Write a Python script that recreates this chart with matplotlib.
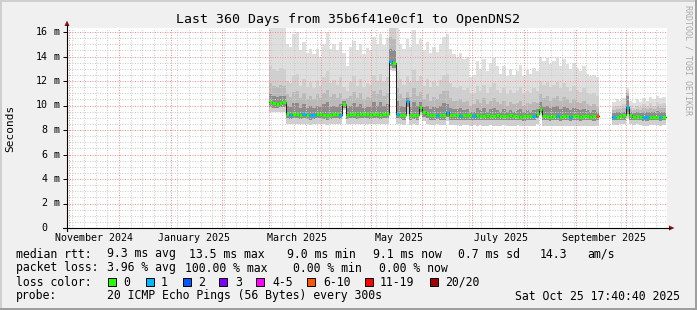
import numpy as np
import pandas as pd
import matplotlib
matplotlib.use('Agg')
import matplotlib.pyplot as plt
import matplotlib.dates as mdates
from matplotlib.ticker import MultipleLocator
from matplotlib.patches import Rectangle, Polygon
from matplotlib.lines import Line2D

W, H = 697, 310
MONO = 'DejaVu Sans Mono'

# ---- data: one column every 2 days, values in ms ----
graph_start = '2024-10-30 17:40:40'
graph_end = '2025-10-25 17:40:40'
seg_a_start = '2025-03-01'
seg_b_start = '2025-09-23'

median_a = [10.25, 10.2, 10.15, 10.2, 10.25, 9.3, 9.25, 9.3, 9.3, 9.25,
            9.3, 9.25, 9.2, 9.25, 9.3, 9.3, 9.25, 9.2, 9.25, 9.3,
            9.3, 9.25, 10.1, 9.25, 9.3, 9.3, 9.25, 9.3, 9.3, 9.3,
            9.25, 9.3, 9.3, 9.25, 9.3, 9.3, 13.6, 13.5, 9.3, 9.25,
            9.2, 10.35, 9.2, 9.25, 9.2, 9.9, 9.5, 9.3, 9.2, 9.2,
            9.25, 9.2, 9.2, 9.5, 9.2, 9.2, 9.2, 9.15, 9.2, 9.2,
            9.2, 9.15, 9.2, 9.15, 9.15, 9.2, 9.15, 9.15, 9.2, 9.15,
            9.15, 9.15, 9.2, 9.15, 9.15, 9.1, 9.15, 9.15, 9.15, 9.15,
            9.3, 9.7, 9.15, 9.15, 9.1, 9.15, 9.15, 9.1, 9.15, 9.15,
            9.1, 9.15, 9.15, 9.1, 9.15, 9.15, 9.1, 9.15, 9.15]
loss_a = [0, 0, 0, 0, 0, 0, 1, 0, 0, 0,
          1, 0, 1, 1, 0, 0, 0, 0, 0, 0,
          0, 1, 0, 0, 0, 0, 0, 0, 0, 0,
          0, 0, 0, 0, 0, 0, 1, 0, 1, 0,
          0, 1, 0, 0, 0, 0, 0, 0, 0, 0,
          1, 0, 0, 1, 0, 0, 0, 1, 0, 0,
          0, 1, 0, 0, 0, 0, 0, 0, 0, 0,
          0, 0, 0, 0, 0, 0, 0, 0, 0, 1,
          0, 0, 0, 0, 0, 0, 1, 0, 0, 0,
          1, 0, 0, 0, 0, 0, 0, 0, 7]
max_a = [16.5, 16.5, 16.5, 16.5, 16.5, 15.0, 14.8, 15.8, 16.0, 14.5,
         15.2, 14.3, 14.6, 14.2, 14.6, 14.0, 15.0, 16.0, 14.6, 15.0,
         14.5, 15.2, 14.3, 13.2, 14.8, 15.3, 14.5, 15.0, 14.2, 14.7,
         14.5, 15.6, 15.0, 15.8, 14.9, 15.5, 16.5, 16.5, 16.5, 15.0,
         14.6, 15.4, 14.8, 16.2, 15.0, 15.4, 14.5, 15.2, 14.3, 14.8,
         14.4, 15.0, 15.6, 15.8, 14.6, 14.2, 14.0, 14.3, 13.8, 14.0,
         12.3, 12.5, 13.6, 13.0, 13.8, 12.8, 13.5, 13.9, 13.2, 12.6,
         13.2, 12.4, 13.0, 12.5, 12.8, 13.3, 12.4, 12.9, 12.6, 13.1,
         12.8, 14.0, 13.6, 13.9, 13.4, 13.6, 13.9, 13.2, 13.8, 13.4,
         13.0, 13.5, 13.1, 12.8, 13.2, 12.6, 12.4, 12.5, 12.3]
hi3_a = [13.2, 13.0, 12.8, 13.1, 13.0, 12.0, 11.8, 12.4, 12.6, 11.6,
         12.2, 11.5, 11.9, 11.4, 12.0, 11.6, 12.3, 12.8, 11.8, 12.1,
         11.7, 12.3, 11.5, 11.2, 11.9, 12.4, 11.6, 12.2, 11.5, 11.8,
         11.7, 12.5, 12.0, 12.6, 11.9, 12.3, 16.5, 16.5, 12.8, 12.2,
         11.7, 12.4, 11.9, 12.9, 12.0, 12.4, 11.6, 12.2, 11.5, 11.9,
         11.6, 12.1, 12.5, 12.6, 11.8, 11.5, 11.4, 11.6, 11.3, 11.4,
         10.9, 11.0, 11.6, 11.2, 11.7, 11.0, 11.5, 11.8, 11.3, 11.0,
         11.4, 10.9, 11.3, 11.0, 11.2, 11.5, 10.9, 11.2, 11.0, 11.4,
         11.2, 12.0, 11.7, 11.9, 11.5, 11.7, 11.9, 11.4, 11.8, 11.5,
         11.2, 11.6, 11.3, 11.1, 11.4, 11.0, 10.9, 11.0, 10.8]
hi2_a = [11.8, 11.6, 11.5, 11.7, 11.6, 10.9, 10.7, 11.1, 11.2, 10.6,
         11.0, 10.5, 10.8, 10.5, 10.9, 10.6, 11.0, 11.3, 10.7, 10.9,
         10.6, 11.0, 10.5, 10.6, 10.8, 11.1, 10.6, 11.0, 10.5, 10.7,
         10.6, 11.2, 10.9, 11.3, 10.8, 11.0, 15.6, 15.4, 11.4, 10.9,
         10.6, 11.1, 10.7, 11.4, 10.8, 11.1, 10.5, 10.9, 10.4, 10.7,
         10.5, 10.9, 11.2, 11.2, 10.6, 10.4, 10.4, 10.5, 10.3, 10.4,
         10.0, 10.1, 10.5, 10.2, 10.6, 10.1, 10.4, 10.6, 10.3, 10.1,
         10.4, 10.0, 10.3, 10.1, 10.2, 10.4, 10.0, 10.2, 10.1, 10.3,
         10.2, 10.9, 10.6, 10.8, 10.4, 10.6, 10.8, 10.4, 10.7, 10.5,
         10.2, 10.5, 10.3, 10.2, 10.4, 10.1, 10.0, 10.1, 9.9]
hi1_a = [10.9, 10.8, 10.7, 10.8, 10.8, 10.0, 9.9, 10.2, 10.2, 9.8,
         10.1, 9.8, 10.0, 9.8, 10.0, 9.9, 10.1, 10.3, 9.9, 10.0,
         9.9, 10.1, 10.4, 9.8, 10.0, 10.2, 9.9, 10.1, 9.8, 9.9,
         9.9, 10.3, 10.0, 10.3, 10.0, 10.1, 14.6, 14.5, 10.4, 10.0,
         9.9, 10.6, 9.9, 10.3, 10.0, 10.3, 9.9, 10.0, 9.7, 9.9,
         9.8, 10.0, 10.2, 10.1, 9.8, 9.7, 9.7, 9.8, 9.6, 9.7,
         9.5, 9.5, 9.8, 9.6, 9.8, 9.5, 9.7, 9.8, 9.6, 9.5,
         9.7, 9.5, 9.6, 9.5, 9.6, 9.7, 9.5, 9.6, 9.5, 9.6,
         9.7, 10.3, 9.9, 10.0, 9.8, 9.9, 10.0, 9.7, 9.9, 9.8,
         9.6, 9.8, 9.7, 9.6, 9.7, 9.6, 9.5, 9.6, 9.5]
lo0_a = [9.85, 9.8, 9.8, 9.85, 9.85, 8.95, 8.9, 8.95, 8.95, 8.9,
         8.95, 8.9, 8.85, 8.9, 8.95, 8.95, 8.9, 8.85, 8.9, 8.95,
         8.95, 8.9, 9.8, 8.9, 8.95, 8.95, 8.9, 8.95, 8.95, 8.95,
         8.9, 8.95, 8.95, 8.9, 8.95, 8.95, 13.2, 13.1, 8.95, 8.9,
         8.85, 9.9, 8.85, 8.9, 8.85, 9.5, 9.1, 8.95, 8.85, 8.85,
         8.9, 8.85, 8.85, 9.1, 8.85, 8.85, 8.85, 8.8, 8.85, 8.85,
         8.8, 8.85, 8.8, 8.85, 8.8, 8.8, 8.85, 8.8, 8.8, 8.8,
         8.85, 8.8, 8.8, 8.8, 8.85, 8.8, 8.75, 8.8, 8.8, 8.8,
         8.95, 9.35, 8.8, 8.8, 8.75, 8.8, 8.8, 8.75, 8.8, 8.8,
         8.75, 8.8, 8.8, 8.75, 8.8, 8.8, 8.8, 8.75, 8.8]
min_a = [9.5, 9.5, 9.45, 9.5, 9.5, 8.5, 8.45, 8.5, 8.5, 8.45,
         8.5, 8.45, 8.4, 8.45, 8.5, 8.5, 8.45, 8.4, 8.45, 8.5,
         8.5, 8.45, 9.6, 8.45, 8.5, 8.5, 8.45, 8.5, 8.5, 8.5,
         8.45, 8.5, 8.5, 8.45, 8.5, 8.5, 12.9, 12.8, 8.5, 8.45,
         8.4, 9.3, 8.4, 8.45, 8.4, 9.2, 8.7, 8.5, 8.4, 8.4,
         8.45, 8.4, 8.4, 8.7, 8.4, 8.4, 8.4, 8.35, 8.4, 8.4,
         8.35, 8.4, 8.35, 8.4, 8.35, 8.35, 8.4, 8.35, 8.35, 8.35,
         8.4, 8.35, 8.35, 8.35, 8.4, 8.35, 8.3, 8.35, 8.35, 8.35,
         8.5, 9.25, 8.35, 8.35, 8.3, 8.35, 8.35, 8.3, 8.35, 8.35,
         8.3, 8.35, 8.35, 8.3, 8.35, 8.35, 8.35, 8.3, 8.35]

median_b = [9.1, 9.1, 9.15, 9.2, 9.9, 9.2, 9.1, 9.15, 9.1, 9.05, 9.05, 9.1, 9.1, 9.1, 9.05, 9.1]
loss_b = [1, 0, 0, 0, 1, 0, 0, 0, 0, 1, 1, 0, 0, 0, 1, 0]
max_b = [10.3, 10.5, 10.4, 10.6, 11.4, 10.4, 10.2, 10.5, 10.3, 10.6, 10.4, 10.7, 10.5, 10.8, 10.6, 10.7]
hi3_b = [9.9, 10.0, 10.0, 10.1, 11.2, 10.0, 9.8, 10.0, 9.9, 10.1, 10.0, 10.2, 10.0, 10.3, 10.1, 10.2]
hi2_b = [9.6, 9.7, 9.7, 9.8, 11.0, 9.7, 9.6, 9.7, 9.6, 9.8, 9.7, 9.8, 9.7, 9.9, 9.8, 9.8]
hi1_b = [9.4, 9.45, 9.45, 9.5, 10.8, 9.45, 9.4, 9.45, 9.4, 9.5, 9.45, 9.5, 9.45, 9.55, 9.5, 9.5]
lo0_b = [8.8, 8.8, 8.85, 8.85, 9.3, 8.85, 8.8, 8.85, 8.8, 8.75, 8.75, 8.8, 8.8, 8.8, 8.75, 8.8]
min_b = [8.4, 8.4, 8.45, 8.45, 9.0, 8.45, 8.4, 8.45, 8.4, 8.35, 8.35, 8.4, 8.4, 8.4, 8.35, 8.4]

loss_labels = ['0', '1', '2', '3', '4-5', '6-10', '11-19', '20/20']
loss_colors = ['#26ff00', '#00b8ff', '#0059ff', '#7e00ff', '#ff00ff', '#ff5500', '#ff0000', '#a10000']

month_labels = ['November 2024', 'January 2025', 'March 2025', 'May 2025', 'July 2025', 'September 2025']
month_label_dates = ['2024-11-16', '2025-01-15', '2025-03-18', '2025-05-18', '2025-07-18', '2025-09-18']

rtt_stats = ['9.3 ms avg', '13.5 ms max', '9.0 ms min', '9.1 ms now', '0.7 ms sd', '14.3', 'am/s']
loss_stats = ['3.96 % avg', '100.00 % max', '0.00 % min', '0.00 % now']
probe_text = '20 ICMP Echo Pings (56 Bytes) every 300s'
stamp_text = 'Sat Oct 25 17:40:40 2025'
title = 'Last 360 Days from 35b6f41e0cf1 to OpenDNS2'


def fx(x):
    return x / W


def fy(y):
    return 1 - y / H


def loss_color(n):
    if n <= 3:
        return loss_colors[n]
    if n <= 5:
        return loss_colors[4]
    if n <= 10:
        return loss_colors[5]
    if n <= 19:
        return loss_colors[6]
    return loss_colors[7]


def draw_segment(ax, start, median, loss, mx, hi3, hi2, hi1, lo0, mn):
    t = pd.date_range(start, periods=len(median) + 1, freq='2D')
    t = mdates.date2num(t.to_pydatetime())

    def ext(v):
        return np.append(v, v[-1])

    # smoke: outer pings lightest, inner pings darker
    bands = [(mn, mx, '#dfdfdf'), (mn, hi3, '#cfcfcf'),
             (lo0, hi2, '#b9b9b9'), (lo0, hi1, '#8c8c8c')]
    for lo, hi, col in bands:
        ax.fill_between(t, ext(lo), ext(hi), step='post', color=col, lw=0, zorder=1)
    ax.step(t, ext(median), where='post', color='#202020', lw=0.7, zorder=3)
    ax.hlines(median, t[:-1], t[1:], colors=[loss_color(n) for n in loss],
              lw=2.2, zorder=4)


fig = plt.figure(figsize=(W / 100, H / 100), dpi=100, facecolor='#f0f0f0')
ax = fig.add_axes([fx(67), fy(228), 600 / W, 200 / H])
ax.set_facecolor('white')

draw_segment(ax, seg_a_start, median_a, loss_a, max_a, hi3_a, hi2_a, hi1_a, lo0_a, min_a)
draw_segment(ax, seg_b_start, median_b, loss_b, max_b, hi3_b, hi2_b, hi1_b, lo0_b, min_b)

x0 = mdates.date2num(pd.Timestamp(graph_start).to_pydatetime())
x1 = mdates.date2num(pd.Timestamp(graph_end).to_pydatetime())
ax.set_xlim(x0, x1)
ax.set_ylim(0, 200 / 12.25)

ax.yaxis.set_major_locator(MultipleLocator(2))
ax.yaxis.set_minor_locator(MultipleLocator(0.5))
ax.xaxis.set_major_locator(mdates.MonthLocator())
ax.xaxis.set_minor_locator(mdates.WeekdayLocator(byweekday=mdates.SU))
ax.set_axisbelow(False)
ax.grid(which='minor', color='#cccccc', lw=0.72, linestyle=(0, (1, 1.5)))
ax.grid(which='major', color='#f09090', lw=0.72, linestyle=(0, (1, 1.5)))
ax.tick_params(which='both', labelleft=False, labelbottom=False, length=0)
ax.tick_params(axis='y', which='major', length=3, width=0.7, color='black', direction='out')
for s in ax.spines.values():
    s.set_visible(False)

# axis lines and arrows
fig.add_artist(Line2D([fx(67), fx(67)], [fy(231), fy(25)], color='black', lw=0.8))
fig.add_artist(Line2D([fx(63), fx(670)], [fy(228), fy(228)], color='black', lw=0.8))
fig.add_artist(Polygon([(fx(64.5), fy(26)), (fx(69.5), fy(26)), (fx(67), fy(20.5))],
                       closed=True, color='#8b1010', lw=0))
fig.add_artist(Polygon([(fx(669), fy(225.5)), (fx(669), fy(230.5)), (fx(674.5), fy(228))],
                       closed=True, color='#8b1010', lw=0))

# y tick labels
for v in range(0, 17, 2):
    ypix = 228 - v * 12.25
    fig.text(fx(47.5), fy(ypix), str(v), ha='right', va='center', family=MONO, fontsize=7.2)
    if v > 0:
        fig.text(fx(54), fy(ypix), 'm', ha='left', va='center', family=MONO, fontsize=7.2)

# x tick labels
for lab, d in zip(month_labels, month_label_dates):
    xd = mdates.date2num(pd.Timestamp(d).to_pydatetime())
    xpix = 67 + (xd - x0) / (x1 - x0) * 600
    fig.text(fx(xpix), fy(238), lab, ha='center', va='center', family=MONO, fontsize=7.2)

fig.text(fx(348), fy(19), title, ha='center', va='center', family=MONO, fontsize=9.5)
fig.text(fx(10), fy(128), 'Seconds', ha='center', va='center', rotation=90,
         family=MONO, fontsize=8)
fig.text(fx(688), fy(5), 'RRDTOOL / TOBI OETIKER', ha='center', va='top', rotation=270,
         family=MONO, fontsize=6, color='#aaaaaa')

# legend
lfs = 8.3
fig.text(fx(16), fy(254), 'median rtt:', va='center', family=MONO, fontsize=lfs)
for xp, s in zip([107, 189, 287, 373, 458, 540, 587], rtt_stats):
    fig.text(fx(xp), fy(254), s, va='center', family=MONO, fontsize=lfs)
fig.text(fx(16), fy(268), 'packet loss:', va='center', family=MONO, fontsize=lfs)
for xp, s in zip([107, 185, 293, 379], loss_stats):
    fig.text(fx(xp), fy(268), s, va='center', family=MONO, fontsize=lfs)
fig.text(fx(16), fy(282), 'loss color:', va='center', family=MONO, fontsize=lfs)
for bx, tx, lab, col in zip([108, 146, 183, 219, 256, 307, 365, 430],
                            [123, 161, 198, 235, 272, 323, 380, 445],
                            loss_labels, loss_colors):
    fig.add_artist(Rectangle((fx(bx), fy(286)), 8 / W, 8 / H, facecolor=col,
                             edgecolor='black', lw=0.7))
    fig.text(fx(tx), fy(282), lab, va='center', family=MONO, fontsize=lfs)
fig.text(fx(16), fy(296), 'probe:', va='center', family=MONO, fontsize=lfs)
fig.text(fx(107), fy(296), probe_text, va='center', family=MONO, fontsize=lfs)
fig.text(fx(680), fy(296), stamp_text, ha='right', va='center', family=MONO, fontsize=lfs)

# frame shading
fig.add_artist(Rectangle((0, fy(2)), 1, 2 / H, color='#cfcfcf', lw=0))
fig.add_artist(Rectangle((0, 0), 2 / W, 1, color='#cfcfcf', lw=0))
fig.add_artist(Rectangle((0, 0), 1, 2 / H, color='#9e9e9e', lw=0))
fig.add_artist(Rectangle((fx(W - 2), 0), 2 / W, 1, color='#9e9e9e', lw=0))

fig.savefig('out.png', dpi=100, facecolor=fig.get_facecolor())
